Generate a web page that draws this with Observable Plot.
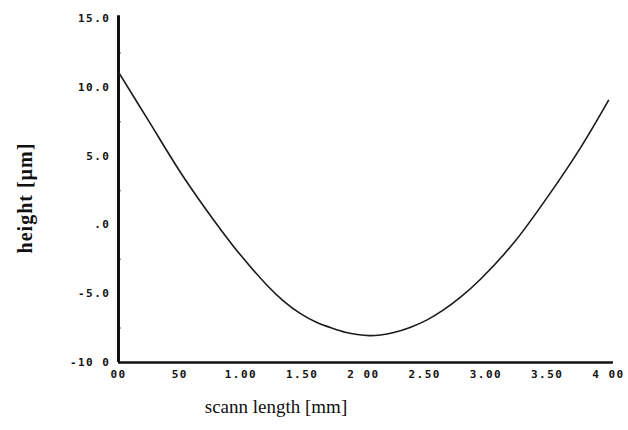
<!DOCTYPE html>
<html><head><meta charset="utf-8">
<script src="https://cdn.jsdelivr.net/npm/d3@7"></script>
<script src="https://cdn.jsdelivr.net/npm/@observablehq/plot@0.6"></script>
<style>
body{margin:0;background:#fff}
</style>
</head><body><div id="chart"></div>
<script>
// data
const scanLength = [0.0, 0.25, 0.5, 0.7, 0.941, 1.214, 1.35, 1.486, 1.62, 1.758, 1.85, 1.949, 2.05, 2.139, 2.247, 2.38, 2.52, 2.65, 2.792, 2.955, 3.227, 3.5, 3.771, 4.0];
const heightUm   = [11.1, 7.5, 3.9, 1.3, -1.58, -4.4, -5.55, -6.45, -7.1, -7.55, -7.8, -7.97, -8.05, -8.0, -7.82, -7.45, -6.9, -6.2, -5.25, -3.95, -1.3, 2.0, 5.6, 9.05];

const xTicks = [0, 0.5, 1, 1.5, 2, 2.5, 3, 3.5, 4];
const xTickLabels = ["00", "50", "1.00", "1.50", "2 00", "2.50", "3.00", "3.50", "4 00"];
const yTicks = [15, 10, 5, 0, -5, -10];
const yTickLabels = ["15.0", "10.0", "5.0", ".0", "-5.0", "-10 0"];
const yMinorTicks = [-7.5, -2.5, 2.5, 7.5, 12.5];

const xTitle = "scann length [mm]";
const yTitle = "height [\u00b5m]";

const rows = scanLength.map((x, i) => ({x, y: heightUm[i]}));

const chart = Plot.plot({
  width: 628,
  height: 430,
  marginLeft: 118,
  marginRight: 20,
  marginTop: 18,
  marginBottom: 68,
  style: {fontFamily: "'DejaVu Sans Mono', monospace", fontSize: "11px", fontWeight: "bold", color: "#111", background: "#fff"},
  x: {domain: [0, 4]},
  y: {domain: [-10, 15]},
  marks: [
    Plot.axisX({ticks: xTicks, tickSize: 0, tickPadding: 8, tickFormat: (d) => xTickLabels[xTicks.indexOf(d)], label: null}),
    Plot.axisY({ticks: yTicks, tickSize: 0, tickPadding: 8, tickFormat: (d) => yTickLabels[yTicks.indexOf(d)], label: null}),
    Plot.ruleY(yMinorTicks, {y: d => d, x1: 0, x2: 0.02, stroke: "#111", strokeWidth: 1.5}),
    Plot.ruleX([0], {y1: -10, y2: 15.2, stroke: "#111", strokeWidth: 3}),
    Plot.ruleY([-10], {x1: 0, x2: 4.04, stroke: "#111", strokeWidth: 2.5}),
    Plot.line(rows, {x: "x", y: "y", curve: "catmull-rom", stroke: "#1a1a1a", strokeWidth: 1.6})
  ]
});

const svg = d3.select(chart);
svg.selectAll("g[aria-label='x-axis tick label'] text, g[aria-label='y-axis tick label'] text")
  .style("letter-spacing", "1.5px");

svg.append("text")
  .attr("x", 276).attr("y", 413)
  .attr("text-anchor", "middle")
  .style("font-family", "'Liberation Serif', 'DejaVu Serif', serif")
  .style("font-size", "19px").style("font-weight", "normal")
  .attr("fill", "#111")
  .text(xTitle);

svg.append("text")
  .attr("transform", "translate(32,198) rotate(-90)")
  .attr("text-anchor", "middle")
  .style("font-family", "'Liberation Serif', 'DejaVu Serif', serif")
  .style("font-size", "20px").style("font-weight", "bold")
  .style("letter-spacing", "1px")
  .attr("fill", "#111")
  .text(yTitle);

document.getElementById("chart").appendChild(chart);
</script>
</body></html>
